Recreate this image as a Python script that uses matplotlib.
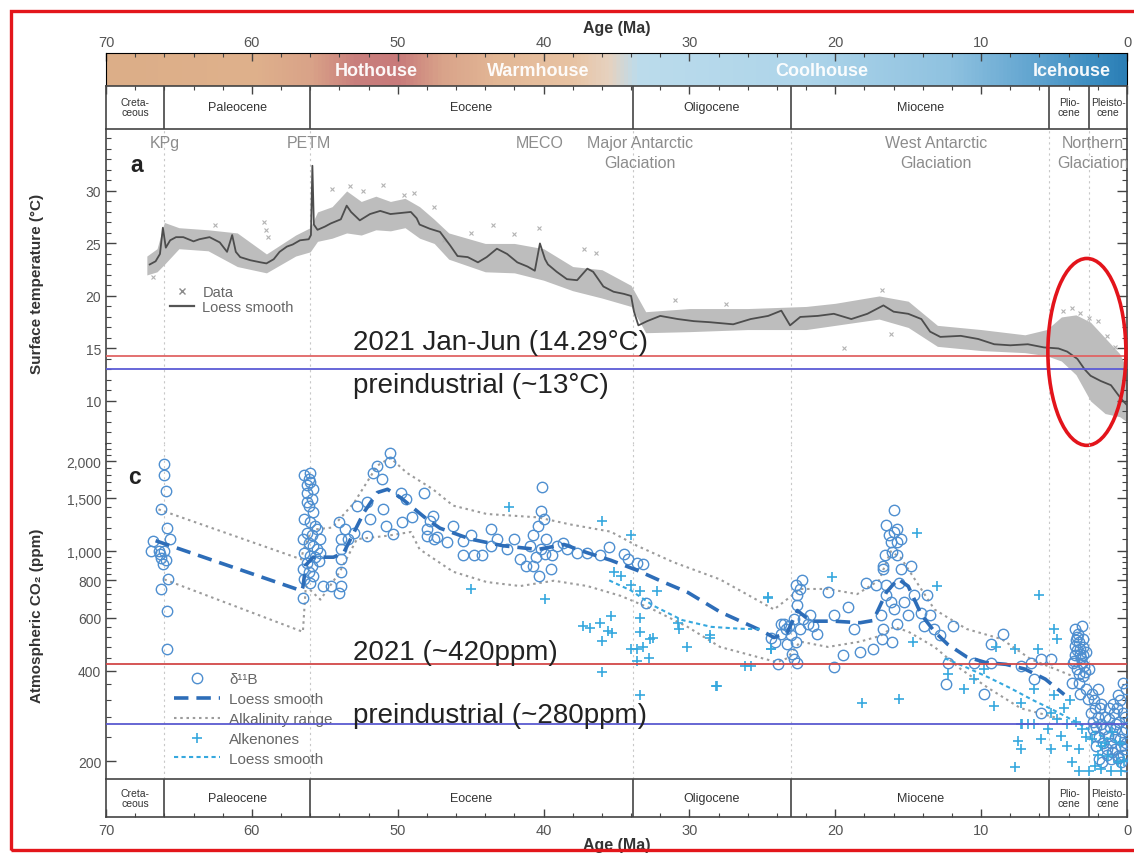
import matplotlib
matplotlib.use("Agg")
import matplotlib.pyplot as plt
import numpy as np
from matplotlib.colors import LinearSegmentedColormap
from matplotlib.lines import Line2D
from matplotlib.patches import Ellipse, Rectangle
from matplotlib.ticker import MultipleLocator, FixedLocator, NullFormatter

plt.rcParams["font.family"] = ["Liberation Sans", "DejaVu Sans"]
NARROW = ["Liberation Sans Narrow", "Liberation Sans", "DejaVu Sans"]

# ---------------- time scale ----------------
epoch_bounds = [70, 66.0, 56.0, 33.9, 23.03, 5.33, 2.58, 0]
epoch_names = ["Creta-\nceous", "Paleocene", "Eocene", "Oligocene", "Miocene",
               "Plio-\ncene", "Pleisto-\ncene"]

climate_states = ["Hothouse", "Warmhouse", "Coolhouse", "Icehouse"]
climate_label_age = [51.5, 40.4, 20.9, 3.8]
climate_stop_age = [70, 60, 56, 53, 50, 47, 43, 38, 35.5, 33.5, 22, 12, 6, 2, 0]
climate_stop_color = ["#dcae88", "#dfb18c", "#d9a288", "#c97f7d", "#c87a7a",
                      "#d9a38a", "#e3b896", "#e8c3a3", "#e6d2c0", "#bcdcec",
                      "#aed5ea", "#8fc2e0", "#5fa3cf", "#3a8cc0", "#2b7fb6"]

event_names = ["KPg", "PETM", "MECO", "Major Antarctic\nGlaciation",
               "West Antarctic\nGlaciation", "Northern\nGlaciation"]
event_age = [66.0, 56.1, 40.3, 33.4, 13.1, 2.35]
guide_ages = [66.0, 56.0, 33.9, 23.03, 5.33, 2.58]

# ---------------- surface temperature (a) ----------------
temp_age = [67.0, 66.6, 66.3, 66.1, 65.9, 65.6, 65.2, 64.7, 64.0, 63.6,
            62.9, 62.2, 61.7, 61.35, 61.1, 60.8, 60.1, 59.4, 59.0, 58.5,
            58.1, 57.6, 57.2, 56.7, 56.1, 55.95, 55.85, 55.75, 55.5, 55.0,
            54.6, 53.9, 53.5, 53.2, 52.6, 51.9, 51.2, 50.5, 49.8, 49.1,
            48.7, 48.5, 47.8, 47.1, 46.4, 45.9, 45.2, 44.5, 43.9, 43.2,
            42.5, 41.8, 41.1, 40.6, 40.25, 39.9, 39.7, 39.1, 38.4, 37.7,
            37.0, 36.6, 35.9, 35.2, 34.5, 34.0, 33.8, 33.5, 32.9, 32.0,
            30.8, 29.7, 28.6, 27.0, 25.8, 24.6, 23.7, 23.1, 22.4, 21.2,
            20.1, 18.9, 17.8, 16.7, 16.0, 15.0, 14.1, 13.5, 12.8, 11.4,
            10.2, 9.1, 8.0, 6.8, 5.7, 4.7, 4.1, 3.4, 2.9, 2.5,
            1.8, 1.1, 0.4, 0.0]
temp_loess = [23.0, 23.3, 24.0, 26.5, 24.6, 25.3, 25.6, 25.6, 25.2, 25.4,
              25.6, 25.1, 24.2, 25.8, 24.2, 23.7, 23.4, 23.2, 23.1, 23.5,
              24.2, 24.7, 24.9, 25.3, 25.4, 25.8, 32.4, 26.8, 26.3, 26.6,
              26.9, 27.3, 28.6, 28.0, 27.2, 27.8, 28.1, 27.8, 27.9, 28.0,
              27.4, 26.8, 26.4, 26.1, 24.8, 23.8, 23.7, 23.2, 23.7, 24.5,
              24.0, 23.2, 22.8, 22.4, 25.0, 23.5, 23.0, 22.3, 21.6, 21.5,
              22.6, 22.3, 20.9, 20.4, 20.2, 20.0, 18.5, 17.2, 17.6, 18.1,
              17.8, 17.6, 17.5, 17.3, 17.8, 18.1, 18.6, 17.2, 18.0, 18.1,
              18.3, 17.8, 18.3, 19.1, 18.5, 18.3, 17.8, 16.6, 16.1, 16.2,
              15.9, 15.4, 15.3, 15.4, 15.1, 15.0, 14.7, 14.0, 13.0, 12.4,
              11.9, 11.5, 10.2, 9.6]

# envelope of the scattered data cloud
band_age = [67.2, 66.5, 66.0, 65.0, 63.0, 61.0, 59.0, 57.0, 56.0, 55.5,
            54.5, 53.5, 52.5, 51.5, 50.5, 49.5, 48.5, 47.5, 46.5, 44.0,
            42.0, 40.0, 38.0, 36.0, 34.0, 33.0, 30.0, 26.0, 22.0, 20.0,
            17.0, 15.0, 13.0, 10.0, 7.0, 5.5, 4.5, 3.5, 2.5, 1.5,
            0.5, 0.0]
band_hi = [23.8, 24.5, 27.0, 26.5, 26.3, 26.0, 24.0, 25.8, 26.5, 28.0,
           28.5, 30.0, 29.0, 29.5, 29.0, 29.3, 28.5, 27.3, 26.0, 25.0,
           25.0, 24.5, 22.8, 22.5, 21.0, 18.5, 18.8, 18.8, 19.0, 19.3,
           20.0, 19.5, 17.2, 16.8, 16.3, 16.8, 18.0, 18.2, 17.5, 16.0,
           14.5, 13.0]
band_lo = [22.0, 22.3, 23.0, 24.5, 24.3, 22.8, 22.2, 23.8, 24.2, 25.2,
           25.5, 26.0, 25.8, 26.3, 26.2, 26.5, 25.5, 25.0, 23.5, 22.3,
           22.2, 21.5, 20.5, 19.8, 19.0, 16.5, 16.6, 16.8, 16.8, 17.2,
           17.8, 17.0, 15.2, 14.8, 14.6, 14.3, 13.8, 12.5, 10.0, 8.8,
           8.5, 8.0]

temp_out_age = [66.8, 62.5, 59.2, 59.0, 58.9, 54.5, 53.3, 52.4, 51.0, 49.6,
                48.9, 47.5, 46.8, 45.0, 43.5, 42.0, 40.3, 37.2, 36.4, 31.0,
                27.5, 19.4, 16.8, 16.2, 4.4, 3.8, 3.2, 2.6, 2.0, 1.4, 0.8]
temp_out_val = [21.8, 26.8, 27.0, 26.3, 25.6, 30.2, 30.5, 30.0, 30.6, 29.6,
                29.8, 28.5, 25.3, 26.0, 26.8, 25.9, 26.5, 24.5, 24.1, 19.6,
                19.2, 15.0, 20.6, 16.4, 18.6, 18.9, 18.4, 17.9, 17.6, 16.2, 15.1]

temp_2021 = 14.29
temp_pre = 13.0

# ---------------- atmospheric CO2 (c) ----------------
boron_age_kpg = [66.0, 66.0, 65.9, 66.2, 65.8, 66.8, 65.6, 66.9, 66.3, 66.0,
                 66.1, 65.9, 65.75, 66.2, 65.8, 65.8, 66.4, 66.2]
boron_co2_kpg = [1955, 1793, 1588, 1379, 1197, 1085, 1098, 1004, 978, 1004,
                 908, 934, 806, 749, 632, 471, 1000, 950]

boron_age_petm = [56.4, 56.1, 56.0, 56.2, 55.9, 56.1, 55.8, 56.4, 56.0, 55.7,
                  56.2, 55.9, 56.5, 56.1, 55.8, 55.55, 56.4, 56.0, 55.7, 56.2,
                  55.9, 56.5, 56.1, 55.8, 56.4, 56.0, 56.5, 55.4, 55.3, 56.2,
                  55.8, 56.0, 56.2, 55.55, 55.3]
boron_co2_petm = [1793, 1740, 1700, 1570, 1493, 1420, 1350, 1280, 1250, 1215,
                  1155, 1130, 1098, 1070, 1045, 1016, 990, 967, 955, 915,
                  895, 871, 850, 830, 807, 787, 700, 930, 990, 1660,
                  1612, 1830, 1455, 1185, 1098]

boron_age_eeo = [54.6, 54.0, 53.9, 53.9, 53.9, 53.9, 53.9, 54.0, 53.6, 53.4,
                 53.0, 55.1, 52.8, 51.9, 52.1, 51.7, 51.4, 51.1, 50.8, 50.5,
                 50.5, 50.3, 49.8, 49.7, 49.0, 49.4, 48.2, 48.0, 47.6, 47.3,
                 46.6, 52.1, 51.0]
boron_co2_eeo = [767, 1250, 1098, 1016, 941, 850, 767, 727, 1185, 1098,
                 1155, 767, 1420, 1280, 1127, 1830, 1930, 1740, 1215, 2130,
                 1980, 1140, 1570, 1250, 1300, 1493, 1570, 1127, 1316, 1113,
                 1072, 1455, 1382]

boron_age_eoc = [48.0, 47.5, 47.8, 45.5, 45.0, 45.5, 44.8, 44.2, 43.6, 43.2,
                 43.6, 41.6, 40.9, 40.7, 40.4, 40.2, 40.0, 40.2, 40.3, 39.5,
                 40.7, 39.8, 39.1, 38.7, 40.1, 37.7, 37.0, 36.1, 35.5, 34.5,
                 34.2, 33.6, 33.2, 33.0, 46.2, 42.5, 42.0, 41.2, 40.5, 39.9,
                 39.4, 38.4]
boron_co2_eoc = [1185, 1098, 1265, 1085, 1130, 970, 970, 970, 1185, 1098,
                 1045, 941, 1045, 1130, 1215, 1016, 1280, 1365, 830, 871,
                 895, 1098, 1045, 1070, 1640, 990, 990, 970, 1030, 980,
                 941, 915, 905, 670, 1215, 1016, 1098, 895, 955, 980,
                 970, 1016]

boron_age_mio = [24.4, 24.1, 23.75, 23.4, 23.3, 23.06, 23.5, 22.8, 22.6, 22.4,
                 22.3, 22.7, 22.6, 23.2, 22.95, 22.8, 22.6, 22.7, 22.4, 22.2,
                 21.9, 23.9, 23.75, 21.7, 21.5, 21.25, 20.5, 20.1, 20.1, 19.5,
                 19.1, 18.7, 18.3, 17.9, 17.2, 17.4, 16.7, 16.9, 16.5, 16.7,
                 16.8, 16.5, 16.2, 16.1, 16.0, 16.5, 16.3, 16.2, 16.0, 15.75,
                 15.75, 16.1, 16.6, 16.7, 15.75, 15.5, 15.5, 15.6, 16.0, 15.75,
                 15.3, 15.0, 14.8, 14.6, 14.1, 13.9, 13.7, 13.5, 13.2, 12.8,
                 11.9, 12.3, 12.4, 10.5, 9.8, 9.3, 8.5, 9.3, 7.3, 6.6,
                 5.9, 5.2, 5.9, 6.4]
boron_co2_mio = [516, 497, 530, 551, 490, 525, 573, 595, 715, 749,
                 800, 770, 660, 565, 455, 437, 425, 497, 551, 595,
                 573, 421, 573, 615, 565, 530, 730, 615, 410, 450,
                 650, 551, 460, 787, 770, 472, 874, 615, 770, 551,
                 510, 715, 680, 497, 1372, 1220, 1130, 1075, 1160, 1190,
                 1075, 995, 970, 895, 970, 1100, 874, 787, 642, 573,
                 680, 615, 895, 715, 625, 565, 715, 615, 551, 525,
                 565, 425, 360, 425, 334, 490, 530, 425, 415, 425,
                 437, 437, 290, 375]

boron_age_plio = [3.55, 3.45, 3.3, 3.2, 3.55, 3.1, 3.45, 3.0, 3.3, 2.8,
                  3.2, 2.7, 3.1, 3.55, 2.8, 3.7, 3.0, 2.6, 3.3, 3.8,
                  2.4, 2.2, 2.0, 1.77, 1.55, 1.3, 1.08, 0.85, 0.6, 0.39,
                  0.16, 2.3, 2.1, 1.9, 1.7, 1.4, 1.2, 0.97, 0.74, 0.5,
                  0.27, 0.05, 0.27, 0.6, 0.85, 1.08, 0.39, 1.77, 2.0, 2.2,
                  0.05, 0.16]
boron_co2_plio = [551, 520, 497, 472, 450, 425, 405, 385, 365, 347,
                  334, 321, 565, 485, 460, 425, 510, 405, 390, 365,
                  334, 300, 280, 266, 255, 242, 230, 219, 208, 198,
                  193, 255, 224, 203, 198, 219, 276, 310, 266, 236,
                  290, 347, 365, 333, 255, 203, 224, 310, 347, 242,
                  255, 219]

boron_age_pleis = [3.35, 3.25, 3.15, 3.05, 2.95, 3.4, 3.5, 3.6, 2.9, 3.0,
                   2.45, 2.35, 2.25, 2.15, 1.95, 1.85, 1.65, 1.5, 1.35, 1.25,
                   1.15, 1.0, 0.9, 0.8, 0.7, 0.65, 0.55, 0.45, 0.35, 0.25,
                   0.12, 0.08]
boron_co2_pleis = [530, 455, 440, 480, 415, 470, 505, 430, 395, 450,
                   290, 270, 320, 260, 240, 300, 230, 280, 210, 300,
                   260, 215, 290, 240, 300, 205, 270, 320, 250, 210,
                   280, 230]

boron_loess_age = [66.6, 56.6, 56.5, 56.3, 55.8, 54.4, 53.7, 52.3, 51.4, 50.7,
                   49.8, 48.9, 48.0, 47.1, 45.0, 42.8, 40.4, 38.6, 37.0, 35.4,
                   33.6, 32.0, 30.1, 27.9, 25.1, 24.2, 23.3, 22.6, 21.7, 20.1,
                   18.3, 17.4, 16.5, 15.7, 15.0, 14.1, 13.2, 12.3, 11.0, 9.7,
                   8.3, 7.0, 5.6, 4.3]
boron_loess_co2 = [1085, 739, 760, 900, 956, 956, 990, 1352, 1570, 1610,
                   1510, 1390, 1280, 1194, 1098, 1044, 1014, 1054, 989, 934,
                   865, 798, 729, 628, 545, 516, 535, 635, 585, 585,
                   578, 588, 730, 809, 765, 615, 540, 490, 445, 426,
                   420, 405, 375, 333]

alk_hi_age = [66.4, 56.6, 56.5, 55.9, 54.5, 53.0, 51.4, 50.5, 49.4, 47.6,
              46.2, 43.9, 40.4, 38.2, 35.4, 33.6, 31.1, 27.9, 25.1, 24.2,
              22.4, 20.5, 18.5, 17.0, 16.2, 15.5, 14.5, 13.2, 11.0, 8.6,
              6.6, 3.8]
alk_hi_co2 = [1380, 940, 1000, 1180, 1200, 1450, 1930, 2050, 1830, 1612,
              1420, 1332, 1298, 1230, 1163, 1044, 920, 806, 677, 640,
              749, 749, 720, 800, 1000, 950, 800, 640, 551, 510,
              437, 385]
alk_lo_age = [66.0, 56.5, 56.3, 55.3, 54.0, 52.8, 50.7, 49.1, 48.5, 46.2,
              43.9, 41.6, 39.3, 37.0, 34.7, 32.5, 30.1, 27.9, 25.6, 24.0,
              23.3, 22.4, 20.5, 18.3, 16.9, 16.0, 15.0, 13.2, 11.4, 9.5,
              7.3, 4.5]
alk_lo_co2 = [806, 539, 767, 690, 850, 1098, 1127, 1160, 1016, 855,
              790, 766, 798, 766, 710, 640, 559, 480, 448, 427,
              440, 500, 480, 500, 523, 560, 540, 480, 405, 350,
              300, 276]

alken_age_a = [42.4, 45.0, 39.9, 36.0, 34.0, 37.3, 36.8, 36.1, 35.6, 35.3,
               36.0, 35.4, 35.2, 34.7, 34.0, 33.4, 32.2, 33.4, 33.4, 34.0,
               33.6, 33.2, 33.6, 32.8, 32.7, 32.5, 36.0, 33.4, 30.8, 30.7,
               30.2, 28.6, 28.2, 25.8, 24.6, 24.4]
alken_co2_a = [1400, 747, 692, 1265, 1130, 563, 556, 578, 542, 534,
               503, 610, 850, 830, 770, 735, 735, 600, 540, 471,
               471, 478, 431, 442, 509, 515, 395, 333, 578, 549,
               478, 515, 355, 415, 700, 471]
alken_age_b = [24.6, 24.4, 28.6, 28.1, 26.2, 20.2, 18.2, 15.6, 14.4, 13.0,
               14.7, 6.0, 5.0, 4.8, 6.1, 9.0, 7.7, 9.8, 10.5, 11.2,
               12.3, 9.1, 7.3, 7.3, 7.5, 7.3, 7.7, 6.4, 5.9, 5.2,
               5.4, 4.8, 4.5, 4.1, 3.8, 3.3, 2.6, 2.2, 1.77, 1.08,
               0.39, 6.4, 6.8, 5.2, 4.1, 3.1, 2.4, 1.77, 1.3, 0.6,
               3.3, 7.2, 5.0, 2.0, 1.5, 1.0, 0.5, 0.2, 2.8, 3.5,
               4.3, 3.9]
alken_co2_b = [702, 472, 525, 355, 415, 820, 311, 321, 1150, 765,
               497, 715, 551, 510, 472, 480, 472, 405, 375, 347,
               390, 305, 311, 265, 234, 219, 191, 266, 236, 219,
               255, 276, 242, 224, 198, 185, 185, 193, 188, 185,
               185, 347, 266, 290, 266, 255, 236, 224, 208, 198,
               219, 265, 333, 210, 230, 250, 230, 200, 240, 270,
               300, 320]

alken_loess_age_a = [35.5, 34.0, 32.5, 30.5, 28.5, 26.5, 25.0]
alken_loess_co2_a = [800, 740, 660, 590, 560, 552, 550]
alken_loess_age_b = [12.5, 11.0, 9.5, 8.0, 6.5, 5.0, 3.5, 2.0, 0.5, 0.0]
alken_loess_co2_b = [440, 410, 380, 350, 320, 295, 270, 245, 230, 225]

co2_2021 = 420
co2_pre = 265  # line as drawn in the figure (labelled ~280 ppm)
co2_ticks = [200, 400, 600, 800, 1000, 1500, 2000]

# ---------------- figure ----------------
W, H = 1134, 854
fig = plt.figure(figsize=(W / 100, H / 100), dpi=100)


def box(x0, y0, x1, y1):
    return [x0 / W, 1 - y1 / H, (x1 - x0) / W, (y1 - y0) / H]


L, R = 106, 1127
ax_clim = fig.add_axes(box(L, 54, R, 87))
ax_top = fig.add_axes(box(L, 87, R, 130))
ax_t = fig.add_axes(box(L, 130, R, 445))
ax_c = fig.add_axes(box(L, 445, R, 780))
ax_bot = fig.add_axes(box(L, 780, R, 818))

frame_col = "#444444"
tick_col = "#555555"

# climate state bar
pos = [(70 - a) / 70 for a in climate_stop_age]
cmap = LinearSegmentedColormap.from_list("climate", list(zip(pos, climate_stop_color)))
ax_clim.imshow(np.linspace(0, 1, 800).reshape(1, -1), extent=[70, 0, 0, 1],
               aspect="auto", cmap=cmap)
ax_clim.set_xlim(70, 0)
ax_clim.set_ylim(0, 1)
ax_clim.set_yticks([])
for name, age in zip(climate_states, climate_label_age):
    ax_clim.text(age, 0.48, name, color="white", fontsize=13, fontweight="bold",
                 ha="center", va="center", alpha=0.95)
ax_clim.xaxis.tick_top()
ax_clim.set_xticks(range(70, -1, -10))
ax_clim.xaxis.set_minor_locator(MultipleLocator(2))
ax_clim.tick_params(axis="x", which="both", direction="in", top=True, bottom=False,
                    labeltop=True, labelbottom=False, colors=frame_col,
                    labelcolor=tick_col, labelsize=10.5, pad=3)
ax_clim.tick_params(axis="x", which="major", length=6, width=1)
ax_clim.tick_params(axis="x", which="minor", length=3, width=0.8)
ax_clim.xaxis.set_label_position("top")
ax_clim.set_xlabel("Age (Ma)", fontsize=11.5, fontweight="bold", color="#333333",
                   labelpad=2)


def epoch_bar(ax, side):
    ax.set_xlim(70, 0)
    ax.set_ylim(0, 1)
    ax.set_yticks([])
    for b in epoch_bounds[1:-1]:
        ax.axvline(b, color=frame_col, lw=1.2)
    for i, name in enumerate(epoch_names):
        mid = (epoch_bounds[i] + epoch_bounds[i + 1]) / 2
        two = "\n" in name
        ax.text(mid, 0.5, name, ha="center", va="center", family=NARROW,
                fontsize=7.5 if two else 9, linespacing=1.0, color="#333333")
    for s in ax.spines.values():
        s.set_color(frame_col)
        s.set_linewidth(1.2)
    ax.set_xticks(range(70, -1, -10))
    ax.xaxis.set_minor_locator(MultipleLocator(2))
    if side == "top":
        ax.tick_params(axis="x", which="both", direction="in", top=True, bottom=False,
                       labeltop=False, labelbottom=False, colors=frame_col)
    else:
        ax.tick_params(axis="x", which="both", direction="in", top=False, bottom=True,
                       labelbottom=True, colors=frame_col, labelcolor=tick_col,
                       labelsize=10.5, pad=4)
    ax.tick_params(axis="x", which="major", length=6, width=1)
    ax.tick_params(axis="x", which="minor", length=3, width=0.8)


epoch_bar(ax_top, "top")
epoch_bar(ax_bot, "bottom")
ax_bot.set_xlabel("Age (Ma)", fontsize=11.5, fontweight="bold", color="#333333",
                  labelpad=0)


def data_panel(ax):
    ax.set_xlim(70, 0)
    ax.set_xticks([])
    ax.patch.set_visible(False)
    ax.spines["top"].set_visible(False)
    ax.spines["bottom"].set_visible(False)
    for s in ("left", "right"):
        ax.spines[s].set_color(frame_col)
        ax.spines[s].set_linewidth(1.2)
    for g in guide_ages:
        ax.axvline(g, color="#c8c8c8", lw=0.8, ls=(0, (2, 3)), zorder=0)
    ax.tick_params(axis="y", which="both", direction="in", left=True, right=True,
                   colors=frame_col, labelcolor=tick_col, labelsize=10)
    ax.tick_params(axis="y", which="major", length=7, width=1)
    ax.tick_params(axis="y", which="minor", length=3.5, width=0.8)


# ---- panel a ----
data_panel(ax_t)
ax_t.set_ylim(5.9, 35.9)
ax_t.yaxis.set_major_locator(FixedLocator([10, 15, 20, 25, 30]))
ax_t.yaxis.set_minor_locator(MultipleLocator(1))
ax_t.fill_between(band_age, band_lo, band_hi, color="#bdbdbd", lw=0, zorder=1)
ax_t.plot(temp_out_age, temp_out_val, "x", color="#b3b3b3", ms=2.5, mew=0.8, zorder=2)
ax_t.plot(temp_age, temp_loess, color="#4d4d4d", lw=1.3, zorder=3)
ax_t.axhline(temp_2021, color="#e06464", lw=1.3, zorder=4)
ax_t.axhline(temp_pre, color="#5c5cd6", lw=1.3, zorder=4)
ax_t.set_ylabel("Surface temperature (°C)", fontsize=11, fontweight="bold",
                color="#333333")
ax_t.yaxis.set_label_coords(-0.061, 0.51)
ax_t.text(0.030, 0.886, "a", transform=ax_t.transAxes, fontsize=16.5,
          fontweight="bold", color="#222222", ha="center", va="center")
for name, age in zip(event_names, event_age):
    ax_t.text(age, 0.982, name, transform=ax_t.get_xaxis_transform(), ha="center",
              va="top", fontsize=11.5, color="#8c8c8c", linespacing=1.45)
ax_t.text(53.07, 14.95, "2021 Jan-Jun (14.29°C)", fontsize=20, color="#222222",
          va="baseline", ha="left", zorder=6)
ax_t.text(53.07, 10.85, "preindustrial (~13°C)", fontsize=20, color="#222222",
          va="baseline", ha="left", zorder=6)
leg_t = ax_t.legend(
    handles=[Line2D([], [], ls="none", marker="x", color="#8c8c8c", ms=5, mew=1),
             Line2D([], [], color="#555555", lw=1.6)],
    labels=["Data", "Loess smooth"], loc="upper left",
    bbox_to_anchor=(0.063, 0.505), frameon=False, fontsize=10.5,
    handlelength=1.6, handletextpad=0.6, labelspacing=0.05, borderpad=0,
    borderaxespad=0)
for t in leg_t.get_texts():
    t.set_color("#666666")
ax_t.add_patch(Ellipse((2.75, 14.67), 5.35, 17.8, fill=False, edgecolor="#e3141b",
                       lw=2.6, clip_on=False, zorder=10))

# ---- panel c ----
data_panel(ax_c)
ax_c.set_yscale("log")
ax_c.set_ylim(174.2, 2279)
ax_c.yaxis.set_major_locator(FixedLocator(co2_ticks))
ax_c.set_yticklabels([f"{v:,}" for v in co2_ticks])
minor = [v for v in list(range(240, 1000, 40)) + list(range(1100, 2300, 100))
         if v not in co2_ticks]
ax_c.yaxis.set_minor_locator(FixedLocator(minor))
ax_c.yaxis.set_minor_formatter(NullFormatter())

boron_col = "#4f8fd0"
loess_col = "#2d6db8"
alken_col = "#36a8de"
alk_col = "#9c9c9c"

ax_c.plot(alk_hi_age, alk_hi_co2, color=alk_col, lw=1.5, ls=(0, (1.2, 1.8)), zorder=2)
ax_c.plot(alk_lo_age, alk_lo_co2, color=alk_col, lw=1.5, ls=(0, (1.2, 1.8)), zorder=2)
boron_groups = [(boron_age_kpg, boron_co2_kpg), (boron_age_petm, boron_co2_petm),
                (boron_age_eeo, boron_co2_eeo), (boron_age_eoc, boron_co2_eoc),
                (boron_age_mio, boron_co2_mio), (boron_age_plio, boron_co2_plio),
                (boron_age_pleis, boron_co2_pleis)]
for ages, vals in boron_groups:
    ax_c.plot(ages, vals, ls="none", marker="o", mfc="none", mec=boron_col,
              ms=7.5, mew=1.0, zorder=3)
for ages, vals in [(alken_age_a, alken_co2_a), (alken_age_b, alken_co2_b)]:
    ax_c.plot(ages, vals, ls="none", marker="+", color=alken_col, ms=7.5, mew=1.2,
              zorder=4)
ax_c.plot(boron_loess_age, boron_loess_co2, color=loess_col, lw=2.6,
          ls=(0, (4, 2.2)), zorder=5)
ax_c.plot(alken_loess_age_a, alken_loess_co2_a, color=alken_col, lw=1.5,
          ls=(0, (2, 1.6)), zorder=5)
ax_c.plot(alken_loess_age_b, alken_loess_co2_b, color=alken_col, lw=1.5,
          ls=(0, (2, 1.6)), zorder=5)
ax_c.axhline(co2_2021, color="#d24848", lw=1.3, zorder=6)
ax_c.axhline(co2_pre, color="#5a5ad0", lw=1.3, zorder=6)

ax_c.set_ylabel("Atmospheric CO₂ (ppm)", fontsize=11, fontweight="bold",
                color="#333333")
ax_c.yaxis.set_label_coords(-0.061, 0.49)
ax_c.text(0.028, 0.904, "c", transform=ax_c.transAxes, fontsize=16.5,
          fontweight="bold", color="#222222", ha="center", va="center")
ax_c.text(53.07, 437, "2021 (~420ppm)", fontsize=20, color="#222222",
          va="baseline", ha="left", zorder=7)
ax_c.text(53.07, 269, "preindustrial (~280ppm)", fontsize=20, color="#222222",
          va="baseline", ha="left", zorder=7)
leg_c = ax_c.legend(
    handles=[Line2D([], [], ls="none", marker="o", mfc="none", mec=boron_col, ms=7.5),
             Line2D([], [], color=loess_col, lw=2.6, ls=(0, (4, 2.2))),
             Line2D([], [], color=alk_col, lw=1.5, ls=(0, (1.2, 1.8))),
             Line2D([], [], ls="none", marker="+", color=alken_col, ms=7.5, mew=1.2),
             Line2D([], [], color=alken_col, lw=1.5, ls=(0, (2, 1.6)))],
    labels=["δ¹¹B", "Loess smooth", "Alkalinity range", "Alkenones", "Loess smooth"],
    loc="upper left", bbox_to_anchor=(0.067, 0.318), frameon=False, fontsize=11,
    handlelength=3.0, handletextpad=0.6, labelspacing=0.38, borderpad=0,
    borderaxespad=0)
for t in leg_c.get_texts():
    t.set_color("#666666")

# red frame around the whole figure
fig.add_artist(Rectangle((11 / W, 3 / H), 1.2, (851 - 12) / H, transform=fig.transFigure,
                         fill=False, edgecolor="#e3161b", lw=2.4))

fig.savefig("out.png", dpi=100)
